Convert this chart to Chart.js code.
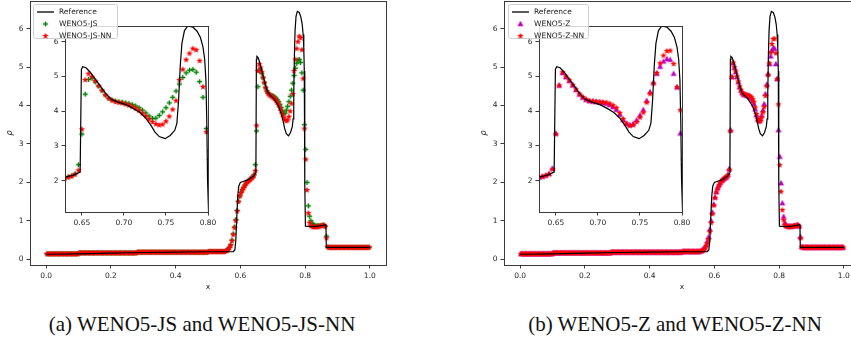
<!DOCTYPE html>
<html>
<head>
<meta charset="utf-8">
<script src="https://cdn.jsdelivr.net/npm/chart.js@4.4.1/dist/chart.umd.min.js"></script>
<style>
  body { margin: 0; width: 851px; height: 343px; overflow: hidden; background: #fff; position: relative; font-family: "DejaVu Sans", sans-serif; }
  canvas { position: absolute; }
  .legend { position: absolute; top: 4px; height: 35px; box-sizing: border-box; border: 1px solid #d0d0d0; border-radius: 2.5px; background: rgba(255, 255, 255, 0.8); z-index: 5; }
  .legend .row { position: absolute; left: 0; height: 12px; width: 100%; }
  .legend .handle { left: 2px; top: 0; }
  .legend span { position: absolute; left: 25px; top: 0; line-height: 12px; font-size: 7.5px; white-space: nowrap; color: #1a1a1a; }
  .caption { position: absolute; top: 312px; font-family: "Liberation Serif", "Times New Roman", serif; font-size: 21px; line-height: 24px; white-space: nowrap; color: #111; transform: translateX(-50%); }
</style>
</head>
<body>
<canvas id="mainA" width="400" height="305" style="left:0px;top:-10px"></canvas>
<canvas id="insetA" width="185" height="220" style="left:35px;top:12px"></canvas>
<canvas id="mainB" width="400" height="305" style="left:474px;top:-10px"></canvas>
<canvas id="insetB" width="185" height="220" style="left:509px;top:12px"></canvas>
<div class="caption" style="left:202px">(a) WENO5-JS and WENO5-JS-NN</div>
<div class="caption" style="left:675px">(b) WENO5-Z and WENO5-Z-NN</div>

<script>
// cell centres of the 250-cell mesh on [0, 1]
const xCells = Array.from({ length: 250 }, (_, i) => +(0.002 + 0.004 * i).toFixed(3));

// low-density region left of x = 0.55 (same for every scheme)
const leftBand = [
    0.14, 0.14, 0.14, 0.14, 0.14, 0.14, 0.14, 0.14, 0.14, 0.14,
    0.14, 0.14, 0.14, 0.14, 0.14, 0.14, 0.14, 0.14, 0.14, 0.14,
    0.14, 0.14, 0.14, 0.14, 0.14, 0.165, 0.165, 0.165, 0.165, 0.165,
    0.165, 0.165, 0.165, 0.165, 0.165, 0.165, 0.165, 0.165, 0.165, 0.165,
    0.165, 0.165, 0.165, 0.165, 0.165, 0.165, 0.165, 0.165, 0.165, 0.165,
    0.165, 0.165, 0.165, 0.165, 0.165, 0.165, 0.165, 0.165, 0.165, 0.165,
    0.165, 0.165, 0.165, 0.165, 0.165, 0.165, 0.165, 0.165, 0.165, 0.165,
    0.185, 0.185, 0.185, 0.185, 0.185, 0.185, 0.185, 0.185, 0.185, 0.185,
    0.185, 0.185, 0.185, 0.185, 0.185, 0.185, 0.185, 0.185, 0.185, 0.185,
    0.185, 0.185, 0.185, 0.185, 0.185, 0.185, 0.185, 0.185, 0.185, 0.185,
    0.185, 0.185, 0.185, 0.185, 0.185, 0.185, 0.185, 0.185, 0.185, 0.185,
    0.185, 0.185, 0.185, 0.185, 0.185, 0.185, 0.185, 0.185, 0.185, 0.185,
    0.185, 0.185, 0.185, 0.185, 0.185, 0.2, 0.2, 0.2, 0.2, 0.2,
    0.2, 0.2, 0.2, 0.2, 0.2, 0.2, 0.2, 0.2
];

// region right of x = 0.87
const rightBand = [
    0.31, 0.31, 0.31, 0.31, 0.31, 0.31, 0.31, 0.31, 0.31, 0.31,
    0.31, 0.31, 0.31, 0.31, 0.31, 0.31, 0.31, 0.31, 0.31, 0.31,
    0.31, 0.31, 0.31, 0.31, 0.31, 0.31, 0.31, 0.31, 0.31, 0.31,
    0.31, 0.31
];

// cells x = 0.554 ... 0.870
const jsDetail = [
    0.21, 0.23, 0.26, 0.31, 0.38, 0.5, 0.66, 0.84, 1.03, 1.27,
    1.5, 1.64, 1.74, 1.81, 1.87, 1.93, 1.98, 2.02, 2.05, 2.08,
    2.11, 2.14, 2.2, 2.46, 3.34, 4.49, 4.91, 4.95, 4.84, 4.72,
    4.59, 4.46, 4.37, 4.32, 4.29, 4.27, 4.26, 4.24, 4.22, 4.19,
    4.15, 4.1, 4.03, 3.95, 3.86, 3.79, 3.8, 3.88, 3.98, 4.1,
    4.24, 4.4, 4.58, 4.78, 4.97, 5.1, 5.18, 5.2, 5.12, 4.85,
    4.4, 3.5, 2.86, 2.0, 1.39, 1.12, 1.0, 0.93, 0.9, 0.88,
    0.87, 0.87, 0.87, 0.87, 0.88, 0.88, 0.89, 0.86, 0.6, 0.32
];
const jsNnDetail = [
    0.21, 0.22, 0.25, 0.3, 0.36, 0.48, 0.64, 0.82, 1.0, 1.25,
    1.5, 1.64, 1.73, 1.8, 1.86, 1.92, 1.97, 2.01, 2.04, 2.07,
    2.1, 2.13, 2.18, 2.3, 3.48, 4.9, 5.08, 4.99, 4.87, 4.73,
    4.6, 4.47, 4.37, 4.31, 4.27, 4.25, 4.23, 4.2, 4.17, 4.13,
    4.08, 4.02, 3.94, 3.86, 3.77, 3.69, 3.63, 3.6, 3.62, 3.71,
    3.85, 4.05, 4.3, 4.9, 5.2, 5.48, 5.66, 5.8, 5.76, 5.45,
    4.7, 3.4, 2.6, 1.8, 1.2, 0.95, 0.87, 0.85, 0.84, 0.84,
    0.84, 0.85, 0.85, 0.86, 0.87, 0.88, 0.89, 0.85, 0.55, 0.32
];
const zDetail = [
    0.2, 0.21, 0.23, 0.26, 0.3, 0.37, 0.46, 0.58, 0.78, 1.0,
    1.22, 1.43, 1.61, 1.75, 1.85, 1.93, 1.99, 2.04, 2.07, 2.1,
    2.12, 2.15, 2.2, 2.35, 3.36, 4.74, 5.1, 4.98, 4.87, 4.74,
    4.61, 4.48, 4.39, 4.33, 4.29, 4.28, 4.27, 4.26, 4.24, 4.22,
    4.18, 4.12, 4.04, 3.9, 3.75, 3.64, 3.6, 3.64, 3.74, 3.88,
    4.04, 4.3, 4.55, 4.82, 5.08, 5.28, 5.43, 5.5, 5.48, 5.08,
    4.69, 3.36, 2.67, 1.98, 1.46, 1.11, 0.95, 0.88, 0.86, 0.86,
    0.86, 0.86, 0.86, 0.87, 0.87, 0.88, 0.89, 0.86, 0.58, 0.32
];
const zNnDetail = [
    0.2, 0.21, 0.22, 0.24, 0.28, 0.34, 0.42, 0.52, 0.72, 0.95,
    1.18, 1.4, 1.6, 1.74, 1.84, 1.92, 1.98, 2.03, 2.07, 2.1,
    2.12, 2.15, 2.19, 2.33, 3.34, 4.74, 5.12, 5.0, 4.89, 4.76,
    4.63, 4.5, 4.41, 4.34, 4.3, 4.29, 4.28, 4.27, 4.26, 4.25,
    4.22, 4.17, 4.1, 3.95, 3.78, 3.65, 3.58, 3.6, 3.69, 3.82,
    3.96, 4.25, 4.5, 4.8, 5.1, 5.38, 5.6, 5.73, 5.74, 5.36,
    4.69, 4.03, 2.45, 1.76, 1.28, 1.02, 0.9, 0.86, 0.85, 0.85,
    0.85, 0.85, 0.86, 0.86, 0.87, 0.88, 0.89, 0.86, 0.55, 0.32
];

const weno5JS = leftBand.concat(jsDetail, rightBand);
const weno5JSNN = leftBand.concat(jsNnDetail, rightBand);
const weno5Z = leftBand.concat(zDetail, rightBand);
const weno5ZNN = leftBand.concat(zNnDetail, rightBand);

// reference solution (fine grid), drawn as a line
const refX = [0, 0.1, 0.2, 0.3, 0.4, 0.5, 0.578, 0.583, 0.586, 0.589, 0.592, 0.595, 0.6,
    0.61, 0.625, 0.64, 0.648, 0.6495, 0.651, 0.655, 0.66, 0.666, 0.672, 0.678, 0.685, 0.693, 0.703,
    0.711, 0.719, 0.726, 0.732, 0.737, 0.742, 0.749, 0.755, 0.7605, 0.763, 0.765, 0.767, 0.769,
    0.772, 0.776, 0.782, 0.787, 0.791, 0.794, 0.796, 0.7975, 0.7985, 0.7995, 0.801,
    0.82, 0.84, 0.855, 0.862, 0.8645, 0.8655, 0.88, 1.0];
const refY = [0.13, 0.14, 0.16, 0.175, 0.185, 0.195, 0.2, 0.24, 0.5, 1.1, 1.65, 1.9, 2.0,
    2.03, 2.07, 2.16, 2.25, 5.2, 5.28, 5.25, 5.12, 4.92, 4.72, 4.52, 4.34, 4.26, 4.18,
    4.08, 3.96, 3.8, 3.6, 3.4, 3.27, 3.21, 3.3, 3.45, 3.65, 4.3, 5.3, 5.95,
    6.32, 6.45, 6.42, 6.3, 6.12, 5.85, 5.5, 4.9, 3.8, 2.0, 0.86,
    0.85, 0.86, 0.88, 0.9, 0.88, 0.31, 0.31, 0.31];

const mainXTicks = [0, 0.2, 0.4, 0.6, 0.8, 1.0];
const mainYTicks = [0, 1, 2, 3, 4, 5, 6];
const insetXTicks = [0.65, 0.70, 0.75, 0.80];
const insetYTicks = [2, 3, 4, 5, 6];

Chart.defaults.font.family = "DejaVu Sans";

/* Small marker images used as point styles. */
function makeSprite(size, draw) {
    const c = document.createElement("canvas");
    c.width = size;
    c.height = size;
    draw(c.getContext("2d"), size / 2);
    return c;
}

const starSprite = makeSprite(8, (g, c) => {
    g.fillStyle = "#ff0000";
    g.beginPath();
    for (let k = 0; k < 10; k++) {
        const r = k % 2 ? 1.4 : 3.3;
        const a = -Math.PI / 2 + (k * Math.PI) / 5;
        g.lineTo(c + r * Math.cos(a), c + r * Math.sin(a));
    }
    g.closePath();
    g.fill();
});

const plusSprite = makeSprite(7, (g, c) => {
    g.strokeStyle = "#008000";
    g.lineWidth = 1.4;
    g.beginPath();
    g.moveTo(c - 2.6, c);
    g.lineTo(c + 2.6, c);
    g.moveTo(c, c - 2.6);
    g.lineTo(c, c + 2.6);
    g.stroke();
});

const triSprite = makeSprite(8, (g, c) => {
    g.fillStyle = "#bf00bf";
    g.beginPath();
    g.moveTo(c, c - 3.2);
    g.lineTo(c + 3, c + 2.2);
    g.lineTo(c - 3, c + 2.2);
    g.closePath();
    g.fill();
});

function points(values) {
    return xCells.map((x, i) => ({ x: x, y: values[i] }));
}

function referenceDataset() {
    return {
        label: "Reference",
        data: refX.map((x, i) => ({ x: x, y: refY[i] })),
        showLine: true,
        borderColor: "#000000",
        borderWidth: 1.2,
        pointRadius: 0,
        order: 0,
    };
}

function markerDataset(label, values, sprite, order) {
    return {
        label: label,
        data: points(values),
        showLine: false,
        pointStyle: sprite,
        pointRadius: 3,
        order: order,
    };
}

/* Box around the axes, with optional white face. */
const framePlugin = {
    id: "frame",
    beforeDraw(chart, args, opts) {
        if (!opts.fill) return;
        const a = chart.chartArea;
        chart.ctx.save();
        chart.ctx.fillStyle = "#ffffff";
        chart.ctx.fillRect(a.left, a.top, a.right - a.left, a.bottom - a.top);
        chart.ctx.restore();
    },
    afterDraw(chart) {
        const { ctx, chartArea: a } = chart;
        ctx.save();
        ctx.strokeStyle = "#262626";
        ctx.lineWidth = 0.9;
        ctx.strokeRect(Math.round(a.left) + 0.5, Math.round(a.top) + 0.5,
            Math.round(a.right - a.left), Math.round(a.bottom - a.top));
        ctx.restore();
    },
};

function scaleOptions(min, max, ticks, digits, size, isX, title) {
    return {
        type: "linear",
        min: min,
        max: max,
        afterBuildTicks: (s) => { s.ticks = ticks.map((v) => ({ value: v })); },
        afterFit: (s) => { if (isX) s.height = size; else s.width = size; },
        ticks: {
            font: { size: 7.5 },
            color: "#262626",
            padding: 3,
            autoSkip: false,
            maxRotation: 0,
            callback: (v) => Number(v).toFixed(digits),
        },
        grid: { drawOnChartArea: false, drawTicks: true, tickLength: 3.5, color: "#262626", lineWidth: 0.9 },
        border: { display: false },
        title: title || { display: false },
    };
}

function mainChart(id, datasets) {
    return new Chart(document.getElementById(id), {
        type: "scatter",
        data: { datasets: datasets },
        options: {
            responsive: false,
            animation: false,
            devicePixelRatio: 1,
            layout: { padding: { top: 11, right: 14, left: 0, bottom: 0 } },
            plugins: { legend: { display: false }, tooltip: { enabled: false }, frame: { fill: false } },
            scales: {
                x: scaleOptions(-0.05, 1.05, mainXTicks, 1, 30, true,
                    { display: true, text: "x", color: "#262626", font: { size: 7.5 }, padding: { top: 0, bottom: 3.8 } }),
                y: scaleOptions(-0.15, 6.72, mainYTicks, 0, 30, false,
                    { display: true, text: "ρ", color: "#262626", font: { size: 8, style: "italic" }, padding: { top: 5.5, bottom: 0 } }),
            },
        },
        plugins: [framePlugin],
    });
}

function insetChart(id, datasets) {
    return new Chart(document.getElementById(id), {
        type: "scatter",
        data: { datasets: datasets },
        options: {
            responsive: false,
            animation: false,
            devicePixelRatio: 1,
            layout: { padding: { top: 14, right: 12, left: 0, bottom: 0 } },
            plugins: { legend: { display: false }, tooltip: { enabled: false }, frame: { fill: true } },
            scales: {
                x: scaleOptions(0.63, 0.80, insetXTicks, 2, 20, true),
                y: scaleOptions(1.1, 6.45, insetYTicks, 0, 30, false),
            },
        },
        plugins: [framePlugin],
    });
}

function panelA() {
    return [
        referenceDataset(),
        markerDataset("WENO5-JS", weno5JS, plusSprite, 2),
        markerDataset("WENO5-JS-NN", weno5JSNN, starSprite, 1),
    ];
}

function panelB() {
    return [
        referenceDataset(),
        markerDataset("WENO5-Z", weno5Z, triSprite, 2),
        markerDataset("WENO5-Z-NN", weno5ZNN, starSprite, 1),
    ];
}

/* Legend box drawn over the axes, like the matplotlib one. */
function buildLegend(left, width, items) {
    const box = document.createElement("div");
    box.className = "legend";
    box.style.left = left + "px";
    box.style.width = width + "px";
    items.forEach((item, k) => {
        const row = document.createElement("div");
        row.className = "row";
        row.style.top = 0.5 + 12 * k + "px";
        const c = document.createElement("canvas");
        c.className = "handle";
        c.width = 20;
        c.height = 12;
        const g = c.getContext("2d");
        if (item.sprite) {
            g.drawImage(item.sprite, 9.5 - item.sprite.width / 2, 6 - item.sprite.height / 2);
        } else {
            g.strokeStyle = "#000";
            g.lineWidth = 1.3;
            g.beginPath();
            g.moveTo(1, 6);
            g.lineTo(18, 6);
            g.stroke();
        }
        const t = document.createElement("span");
        t.textContent = item.label;
        row.append(c, t);
        box.append(row);
    });
    document.body.append(box);
}

mainChart("mainA", panelA());
insetChart("insetA", panelA());
mainChart("mainB", panelB());
insetChart("insetB", panelB());

buildLegend(33, 85, [
    { label: "Reference" },
    { label: "WENO5-JS", sprite: plusSprite },
    { label: "WENO5-JS-NN", sprite: starSprite },
]);
buildLegend(508, 81, [
    { label: "Reference" },
    { label: "WENO5-Z", sprite: triSprite },
    { label: "WENO5-Z-NN", sprite: starSprite },
]);
</script>
</body>
</html>
